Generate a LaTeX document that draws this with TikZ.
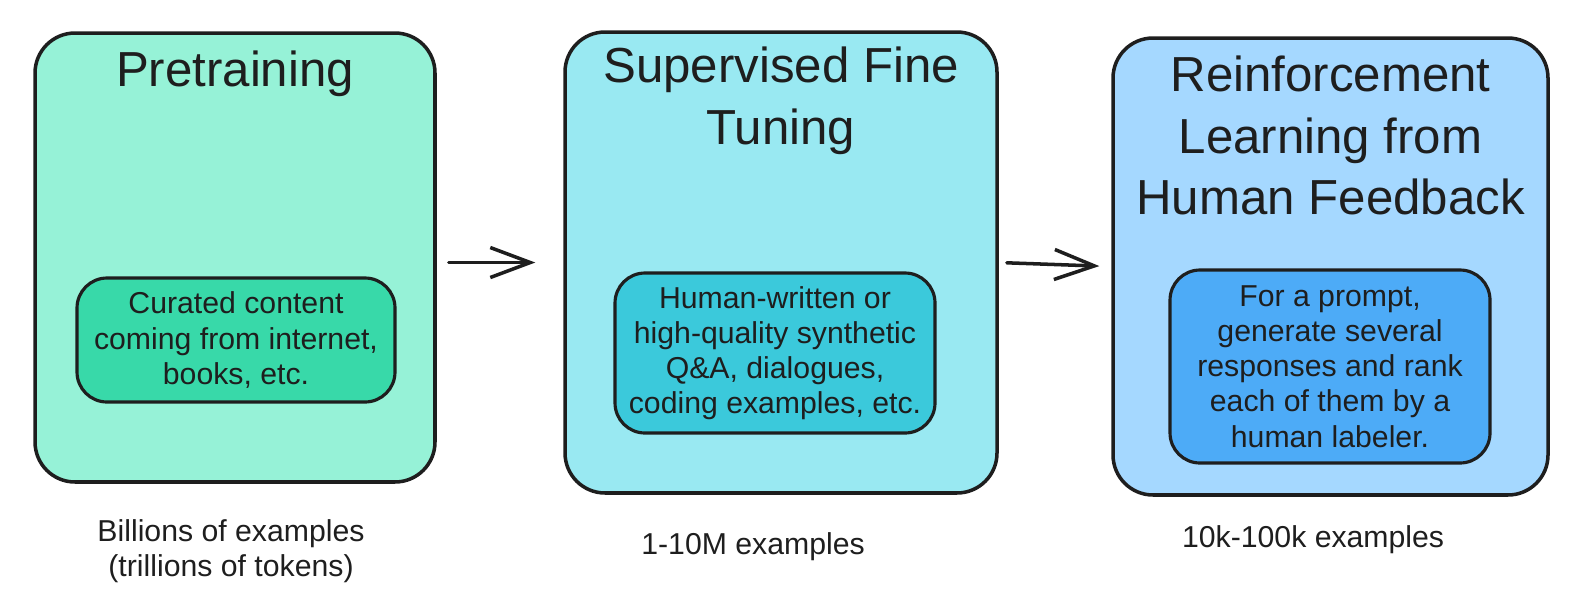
\documentclass[tikz,border=0pt]{standalone}
\usepackage{fontspec}
\setmainfont{Liberation Sans}
\usetikzlibrary{positioning,arrows.meta}
\definecolor{pregreen}{HTML}{96F2D7}
\definecolor{pregreendark}{HTML}{38D9A9}
\definecolor{sftcyan}{HTML}{99E9F2}
\definecolor{sftcyandark}{HTML}{3BC9DB}
\definecolor{rlhfblue}{HTML}{A5D8FF}
\definecolor{rlhfbluedark}{HTML}{4DABF7}
\definecolor{ink}{HTML}{1E1E1E}
\newcommand{\headingfont}{\fontsize{14}{17.5}\selectfont}
\newcommand{\notefont}{\fontsize{8.6}{10}\selectfont}
\begin{document}
\begin{tikzpicture}[scale=0.1]
\tikzstyle{every node}+=[inner sep=0pt]
\tikzstyle{stage}=[draw=ink, line width=1pt, rounded corners=4mm]
\tikzstyle{data}=[draw=ink, line width=0.9pt, rounded corners=3mm, align=center, font=\notefont, text=ink]
\tikzstyle{heading}=[align=center, font=\headingfont, text=ink]
\tikzstyle{count}=[align=center, font=\notefont, text=ink]
\tikzstyle{flow}=[draw=ink, line width=1pt, line cap=round, -{Straight Barb[length=4mm,width=3mm]}]
\useasboundingbox (0,0) rectangle (158.1,-60);
\node [stage, fill=pregreen, minimum width=40mm, minimum height=44.9mm] (pre) at (23.5,-25.75) {};
\node [stage, fill=sftcyan, minimum width=43.2mm, minimum height=46.1mm] (sft) at (78.1,-26.25) {};
\node [stage, fill=rlhfblue, minimum width=43.5mm, minimum height=45.7mm] (rlhf) at (133.05,-26.65) {};
\node [heading, below=1.9mm of pre.north] (preTitle) {Pretraining};
\node [heading, below=1.6mm of sft.north] (sftTitle) {Supervised Fine\\Tuning};
\node [heading, below=1.9mm of rlhf.north] (rlhfTitle) {Reinforcement\\Learning from\\Human Feedback};
\node [data, fill=pregreendark, minimum width=31.8mm, minimum height=12.4mm] (preData) at (23.6,-34) {Curated content\\coming from internet,\\books, etc.};
\node [data, fill=sftcyandark, minimum width=32mm, minimum height=16mm] (sftData) at (77.5,-35.3) {Human-written or\\high-quality synthetic\\Q\&A, dialogues,\\coding examples, etc.};
\node [data, fill=rlhfbluedark, minimum width=32mm, minimum height=19.3mm] (rlhfData) at (133,-36.65) {For a prompt,\\generate several\\responses and rank\\each of them by a\\human labeler.};
\node [count, below=3.5mm of pre.south, xshift=-0.4mm] (preCount) {Billions of examples\\(trillions of tokens)};
\node [count, below=3.7mm of sft.south, xshift=-2.8mm] (sftCount) {1-10M examples};
\node [count, below=2.8mm of rlhf.south, xshift=-1.75mm] (rlhfCount) {10k-100k examples};
\draw [flow, shorten <=1.2mm, shorten >=2.8mm] (pre.east |- sft.west) -- (sft.west);
\draw [flow, shorten <=0.8mm, shorten >=1.2mm] (sft.east) -- (rlhf.west);
\end{tikzpicture}
\end{document}
